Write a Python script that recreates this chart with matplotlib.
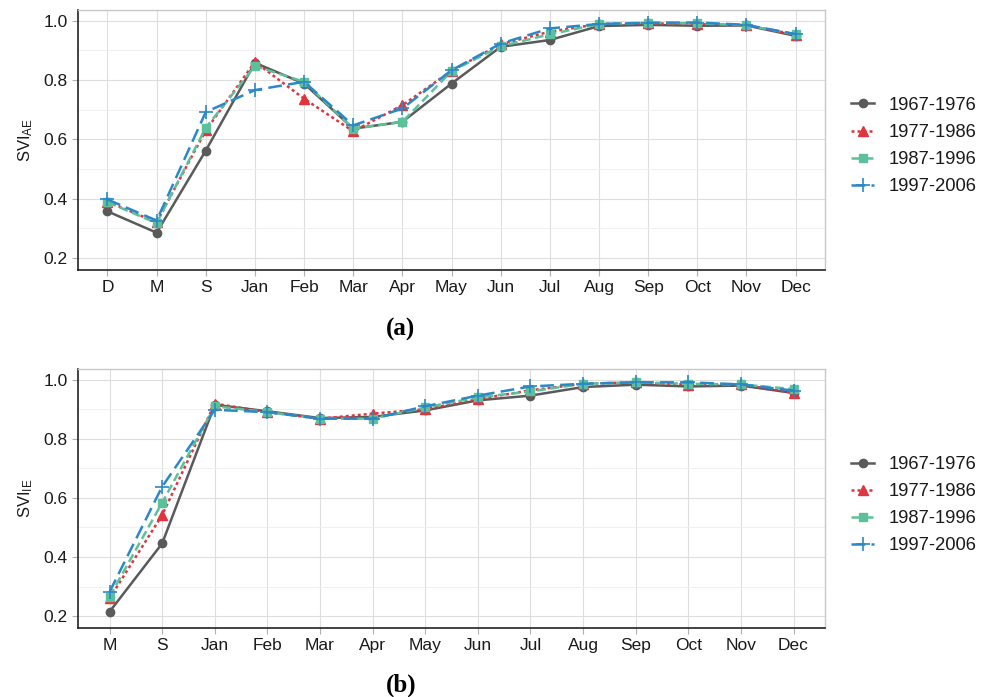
import matplotlib
matplotlib.use("Agg")
import matplotlib.pyplot as plt
from matplotlib.ticker import MultipleLocator

plt.rcParams['font.family'] = ['Liberation Sans', 'DejaVu Sans']
plt.rcParams['mathtext.fontset'] = 'custom'
plt.rcParams['mathtext.rm'] = 'Liberation Sans'
plt.rcParams['mathtext.it'] = 'Liberation Sans'

series_names = ["1967-1976", "1977-1986", "1987-1996", "1997-2006"]

cats_a = ["D", "M", "S", "Jan", "Feb", "Mar", "Apr", "May", "Jun", "Jul", "Aug", "Sep", "Oct", "Nov", "Dec"]
a_1967 = [0.357, 0.285, 0.562, 0.858, 0.788, 0.636, 0.659, 0.788, 0.912, 0.935, 0.982, 0.986, 0.983, 0.984, 0.949]
a_1977 = [0.390, 0.320, 0.630, 0.861, 0.737, 0.627, 0.715, 0.831, 0.921, 0.963, 0.989, 0.991, 0.989, 0.985, 0.953]
a_1987 = [0.388, 0.317, 0.639, 0.847, 0.794, 0.636, 0.659, 0.830, 0.914, 0.954, 0.989, 0.993, 0.991, 0.985, 0.954]
a_1997 = [0.397, 0.326, 0.692, 0.766, 0.794, 0.647, 0.704, 0.833, 0.923, 0.974, 0.989, 0.993, 0.994, 0.986, 0.955]

cats_b = ["M", "S", "Jan", "Feb", "Mar", "Apr", "May", "Jun", "Jul", "Aug", "Sep", "Oct", "Nov", "Dec"]
b_1967 = [0.215, 0.446, 0.915, 0.893, 0.870, 0.874, 0.896, 0.930, 0.946, 0.975, 0.983, 0.977, 0.980, 0.955]
b_1977 = [0.260, 0.542, 0.919, 0.890, 0.868, 0.885, 0.900, 0.934, 0.964, 0.986, 0.991, 0.983, 0.984, 0.955]
b_1987 = [0.266, 0.584, 0.910, 0.890, 0.868, 0.868, 0.906, 0.940, 0.960, 0.986, 0.991, 0.986, 0.984, 0.968]
b_1997 = [0.282, 0.638, 0.898, 0.890, 0.868, 0.868, 0.910, 0.946, 0.977, 0.986, 0.991, 0.991, 0.984, 0.963]

styles = [
    dict(color="#5a5a5a", marker="o", linestyle="-", markersize=6),
    dict(color="#e0343f", marker="^", linestyle=(0, (1.2, 1.2)), markersize=7),
    dict(color="#5cc09b", marker="s", linestyle=(0, (3.5, 1.8)), markersize=6),
    dict(color="#2b88c8", marker="+", linestyle=(0, (5.5, 2.5)), markersize=10, markeredgewidth=1.2),
]

fig = plt.figure(figsize=(9.87, 6.97), dpi=100)
ax_a = fig.add_axes([0.079, 0.613, 0.757, 0.373])
ax_b = fig.add_axes([0.079, 0.099, 0.757, 0.372])


def draw(ax, cats, data, ylabel, legend_y):
    x = list(range(len(cats)))
    handles = []
    for name, vals, st in zip(series_names, data, styles):
        h, = ax.plot(x, vals, linewidth=1.8, label=name, **st)
        handles.append(h)
    ax.set_xlim(-0.6, len(cats) - 0.4)
    ax.set_ylim(0.16, 1.037)
    ax.set_xticks(x)
    ax.set_xticklabels(cats)
    ax.yaxis.set_major_locator(MultipleLocator(0.2))
    ax.yaxis.set_minor_locator(MultipleLocator(0.1))
    ax.set_yticklabels([f"{v:.1f}" for v in ax.get_yticks()])
    ax.grid(True, which="major", color="#dedede", linewidth=0.8)
    ax.grid(True, which="minor", axis="y", color="#eeeeee", linewidth=0.6)
    ax.set_axisbelow(True)
    ax.tick_params(axis="both", which="major", labelsize=12.5, color="#b0b0b0", length=4, labelcolor="#1a1a1a")
    ax.tick_params(axis="y", which="minor", length=0)
    for s in ["top", "right"]:
        ax.spines[s].set_color("#c8c8c8")
        ax.spines[s].set_linewidth(1.0)
    for s in ["left", "bottom"]:
        ax.spines[s].set_color("#222222")
        ax.spines[s].set_linewidth(1.2)
    ax.set_ylabel(ylabel, fontsize=12, color="#1a1a1a", labelpad=6)
    leg = ax.legend(handles=handles, loc="center left", bbox_to_anchor=(1.012, legend_y),
                    frameon=False, fontsize=13.2, handlelength=1.3, handletextpad=0.75,
                    labelspacing=0.55, borderaxespad=0.5)
    for t in leg.get_texts():
        t.set_color("#1a1a1a")
    return leg


draw(ax_a, cats_a, [a_1967, a_1977, a_1987, a_1997], r"SVI$_{\mathrm{AE}}$", 0.476)
draw(ax_b, cats_b, [b_1967, b_1977, b_1987, b_1997], r"SVI$_{\mathrm{IE}}$", 0.473)

fig.text(0.406, 0.527, "(a)", ha="center", va="center", fontsize=18, fontweight="bold",
         family="Liberation Serif")
fig.text(0.406, 0.017, "(b)", ha="center", va="center", fontsize=18, fontweight="bold",
         family="Liberation Serif")

fig.savefig("out.png", dpi=100)
